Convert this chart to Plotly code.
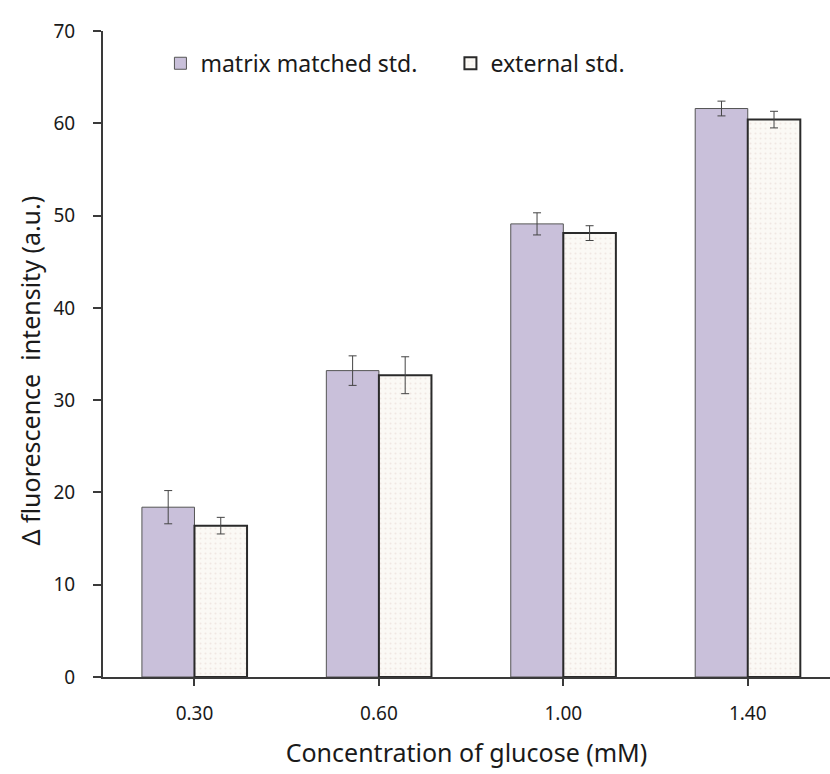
import plotly.graph_objects as go

categories = ["0.30", "0.60", "1.00", "1.40"]
matrix_values = [18.4, 33.2, 49.1, 61.6]
matrix_errors = [1.8, 1.6, 1.2, 0.8]
external_values = [16.4, 32.7, 48.1, 60.4]
external_errors = [0.9, 2.0, 0.8, 0.9]
y_ticks = [0, 10, 20, 30, 40, 50, 60, 70]

FONT = "Noto Sans"
AXIS_COLOR = "#3a3a3a"
TEXT_COLOR = "#1a1a1a"

xpos = list(range(len(categories)))

fig = go.Figure()
fig.add_trace(go.Bar(
    x=xpos, y=matrix_values, name="matrix matched std.",
    marker=dict(color="#C9C0DA", line=dict(color="#555555", width=1)),
    error_y=dict(type="data", array=matrix_errors, color="#444444", thickness=1, width=4),
))
fig.add_trace(go.Bar(
    x=xpos, y=external_values, name="external std.",
    marker=dict(
        color="#FBF9F5",
        line=dict(color="#2a2a2a", width=2),
        pattern=dict(shape=".", fgcolor="#e6d6cf", bgcolor="#FBF9F5", size=5, solidity=0.15),
    ),
    error_y=dict(type="data", array=external_errors, color="#444444", thickness=1, width=4),
))

fig.update_layout(
    width=830, height=774,
    margin=dict(l=103, r=0, t=31, b=97),
    paper_bgcolor="white", plot_bgcolor="white",
    barmode="group", bargap=0.43, bargroupgap=0,
    font=dict(family=FONT, color=TEXT_COLOR),
    legend=dict(
        orientation="h", x=0.079, y=0.95, xanchor="left", yanchor="middle",
        font=dict(size=23, family=FONT, color=TEXT_COLOR),
        entrywidth=245, entrywidthmode="pixels",
        bgcolor="rgba(0,0,0,0)",
    ),
    xaxis=dict(
        range=[-0.496, 3.446],
        tickmode="array", tickvals=xpos, ticktext=categories,
        showline=True, linecolor=AXIS_COLOR, linewidth=2,
        ticks="outside", ticklen=7, tickwidth=1.5, tickcolor=AXIS_COLOR,
        tickfont=dict(size=19, family=FONT, color=TEXT_COLOR),
        ticklabelstandoff=11,
        showgrid=False, zeroline=False,
        title=dict(text="Concentration of glucose (mM)", font=dict(size=25, family=FONT, color=TEXT_COLOR), standoff=20),
    ),
    yaxis=dict(
        range=[0, 70],
        tickmode="array", tickvals=y_ticks,
        showline=True, linecolor=AXIS_COLOR, linewidth=2,
        ticks="outside", ticklen=8, tickwidth=1.5, tickcolor=AXIS_COLOR,
        tickfont=dict(size=19, family=FONT, color=TEXT_COLOR),
        ticklabelstandoff=14,
        showgrid=False, zeroline=False,
    ),
    annotations=[dict(
        text="Δ fluorescence  intensity (a.u.)",
        textangle=-90, xref="paper", yref="paper",
        x=-0.1, y=0.475, xanchor="center", yanchor="middle",
        showarrow=False,
        font=dict(size=25, family=FONT, color=TEXT_COLOR),
    )],
)

fig.write_html("out.html")
